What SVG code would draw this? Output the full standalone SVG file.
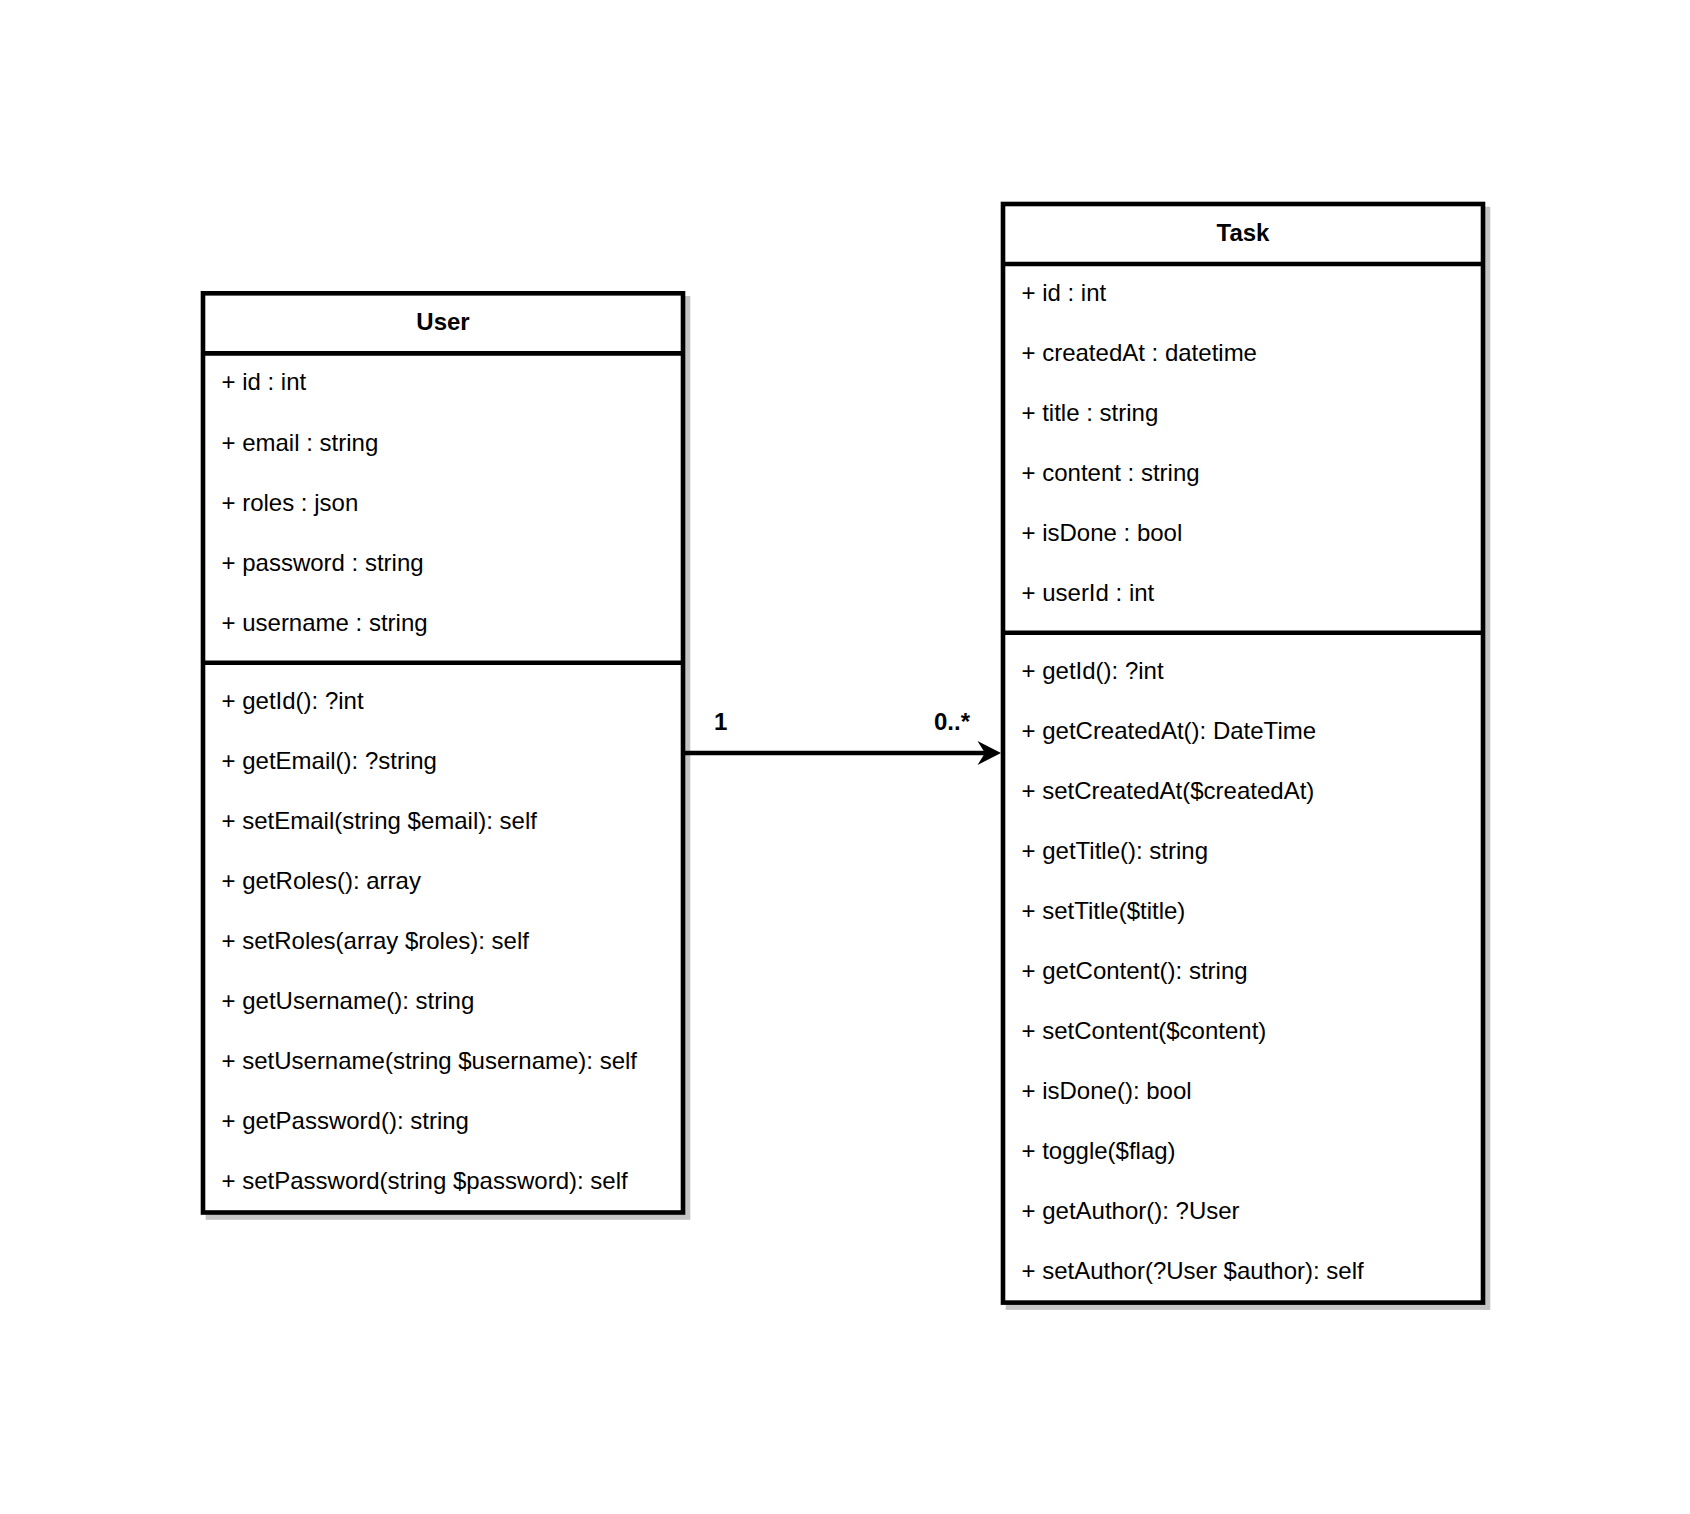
<svg xmlns="http://www.w3.org/2000/svg" width="1690" height="1514" viewBox="0 0 1690 1514">
<style>
  .box { fill: #ffffff; stroke: #000000; stroke-width: 4.6; }
  .shadow { fill: #c4c4c4; stroke: #c4c4c4; stroke-width: 4.6; }
  .sep { stroke: #000000; stroke-width: 4.6; fill: none; }
  .t { font-family: "Liberation Sans", Arial, sans-serif; font-size: 24px; fill: #000000; }
  .h { font-family: "Liberation Sans", Arial, sans-serif; font-size: 24px; font-weight: bold; fill: #000000; text-anchor: middle; }
  .lbl { font-family: "Liberation Sans", Arial, sans-serif; font-size: 24px; font-weight: bold; fill: #000000; }
  .edge { stroke: #000000; stroke-width: 4.6; fill: none; }
</style>
<defs>
  <marker id="arrow" markerUnits="userSpaceOnUse" markerWidth="30" markerHeight="30" viewBox="0 0 30 30" refX="10" refY="15" orient="auto">
    <path d="M 2.5 3 L 26 15 L 2.5 27 L 10 15 Z" fill="#000000" stroke="none"/>
  </marker>
</defs>
<rect width="1690" height="1514" fill="#ffffff"/>

<g id="user">
  <rect class="shadow" x="208" y="298.3" width="480" height="919.2"/>
  <rect class="box" x="203" y="293.3" width="480" height="919.2"/>
  <line class="sep" x1="203" y1="353.4" x2="683" y2="353.4"/>
  <line class="sep" x1="203" y1="662.8" x2="683" y2="662.8"/>
  <text class="h" x="443" y="330">User</text>
  <text class="t" x="221.5" y="390.4">+ id : int</text>
  <text class="t" x="221.5" y="450.5">+ email : string</text>
  <text class="t" x="221.5" y="510.5">+ roles : json</text>
  <text class="t" x="221.5" y="570.6">+ password : string</text>
  <text class="t" x="221.5" y="630.6">+ username : string</text>
  <text class="t" x="221.5" y="708.8">+ getId(): ?int</text>
  <text class="t" x="221.5" y="768.9">+ getEmail(): ?string</text>
  <text class="t" x="221.5" y="828.9">+ setEmail(string $email): self</text>
  <text class="t" x="221.5" y="889">+ getRoles(): array</text>
  <text class="t" x="221.5" y="949">+ setRoles(array $roles): self</text>
  <text class="t" x="221.5" y="1009.1">+ getUsername(): string</text>
  <text class="t" x="221.5" y="1069.1">+ setUsername(string $username): self</text>
  <text class="t" x="221.5" y="1129.2">+ getPassword(): string</text>
  <text class="t" x="221.5" y="1189.2">+ setPassword(string $password): self</text>
</g>

<g id="task">
  <rect class="shadow" x="1008" y="209" width="480" height="1098.6"/>
  <rect class="box" x="1003" y="204" width="480" height="1098.6"/>
  <line class="sep" x1="1003" y1="264.06" x2="1483" y2="264.06"/>
  <line class="sep" x1="1003" y1="632.8" x2="1483" y2="632.8"/>
  <text class="h" x="1243" y="240.5">Task</text>
  <text class="t" x="1021.5" y="300.6">+ id : int</text>
  <text class="t" x="1021.5" y="360.6">+ createdAt : datetime</text>
  <text class="t" x="1021.5" y="420.7">+ title : string</text>
  <text class="t" x="1021.5" y="480.8">+ content : string</text>
  <text class="t" x="1021.5" y="540.8">+ isDone : bool</text>
  <text class="t" x="1021.5" y="600.9">+ userId : int</text>
  <text class="t" x="1021.5" y="678.8">+ getId(): ?int</text>
  <text class="t" x="1021.5" y="738.9">+ getCreatedAt(): DateTime</text>
  <text class="t" x="1021.5" y="798.9">+ setCreatedAt($createdAt)</text>
  <text class="t" x="1021.5" y="859">+ getTitle(): string</text>
  <text class="t" x="1021.5" y="919">+ setTitle($title)</text>
  <text class="t" x="1021.5" y="979.1">+ getContent(): string</text>
  <text class="t" x="1021.5" y="1039.2">+ setContent($content)</text>
  <text class="t" x="1021.5" y="1099.2">+ isDone(): bool</text>
  <text class="t" x="1021.5" y="1159.3">+ toggle($flag)</text>
  <text class="t" x="1021.5" y="1219.3">+ getAuthor(): ?User</text>
  <text class="t" x="1021.5" y="1279.4">+ setAuthor(?User $author): self</text>
</g>

<g id="connectors">
  <path class="edge" d="M 683 753 L 985 753" marker-end="url(#arrow)"/>
  <text class="lbl" x="714" y="730">1</text>
  <text class="lbl" x="934" y="730">0..*</text>
</g>
</svg>
